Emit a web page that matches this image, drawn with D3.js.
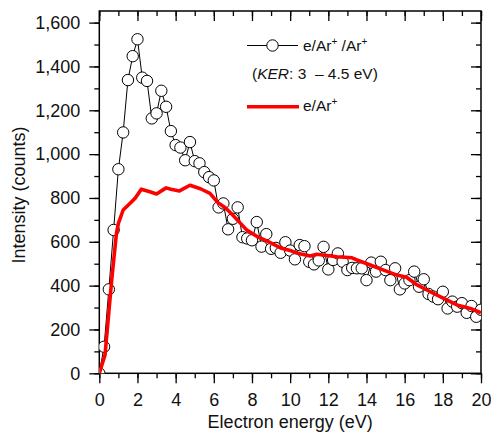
<!DOCTYPE html>
<html>
<head>
<meta charset="utf-8">
<script src="https://cdn.jsdelivr.net/npm/d3@7"></script>
<style>
  body { margin: 0; background: #fff; }
  svg { display: block; font-family: "Liberation Sans", Arial, sans-serif; }
  .tick-label { font-size: 18px; fill: #111; }
  .axis-title { font-size: 18px; fill: #111; }
  .legend-text { font-size: 15.5px; fill: #111; }
</style>
</head>
<body>
<svg id="chart"></svg>
<script>
// e/Ar+/Ar+ (KER 3 - 4.5 eV), circles
const ionEnergy = [0, 0.25, 0.5, 0.75, 1, 1.25, 1.5, 1.75, 2, 2.25, 2.5, 2.75, 3, 3.25, 3.5, 3.75, 4, 4.25, 4.5, 4.75,
  5, 5.25, 5.5, 5.75, 6, 6.25, 6.5, 6.75, 7, 7.25, 7.5, 7.75, 8, 8.25, 8.5, 8.75, 9, 9.25, 9.5, 9.75,
  10, 10.25, 10.5, 10.75, 11, 11.25, 11.5, 11.75, 12, 12.25, 12.5, 12.75, 13, 13.25, 13.5, 13.75, 14, 14.25, 14.5, 14.75,
  15, 15.25, 15.5, 15.75, 16, 16.25, 16.5, 16.75, 17, 17.25, 17.5, 17.75, 18, 18.25, 18.5, 18.75, 19, 19.25, 19.5, 19.75, 20];
const ionCounts = [0, 121, 383, 654, 931, 1099, 1338, 1447, 1524, 1349, 1334, 1163, 1186, 1289, 1216, 1105, 1041, 1030, 972, 1055,
  968, 958, 918, 895, 880, 757, 775, 657, 705, 757, 621, 615, 607, 690, 578, 635, 568, 572, 550, 598,
  560, 520, 585, 580, 509, 497, 515, 577, 474, 517, 547, 509, 471, 481, 479, 479, 425, 505, 464, 509,
  471, 425, 479, 383, 410, 425, 464, 395, 429, 362, 350, 338, 372, 296, 327, 304, 320, 276, 307, 258, 290];

// e/Ar+, red line
const eEnergy = [0, 0.3, 0.65, 0.9, 1.0, 1.25, 1.6, 1.87, 2.2, 2.65, 3.0, 3.5, 3.75, 4.2, 4.75, 5.3, 5.8, 6.2, 6.6, 6.9,
  7.4, 7.75, 8.25, 8.8, 9.5, 10, 10.5, 11.05, 11.4, 12.45, 13.24, 13.5, 14.2, 14.9, 15.6, 16.1, 16.65, 17.34, 18.04, 18.74, 19.44, 20];
const eCounts = [0, 84, 426, 640, 684, 745, 775, 798, 840, 828, 818, 846, 840, 832, 858, 842, 821, 780, 755, 730,
  684, 652, 625, 603, 572, 560, 545, 535, 543, 532, 527, 517, 494, 471, 448, 438, 403, 372, 342, 312, 296, 276];

const xTicks = [0, 2, 4, 6, 8, 10, 12, 14, 16, 18, 20];
const yTicks = [0, 200, 400, 600, 800, 1000, 1200, 1400, 1600];

const W = 491, H = 432;
const margin = { top: 11, right: 10, bottom: 58.7, left: 99.3 };
const width = W - margin.left - margin.right;
const height = H - margin.top - margin.bottom;

const svg = d3.select('#chart').attr('width', W).attr('height', H);
const chart = svg.append('g').attr('transform', `translate(${margin.left},${margin.top})`);

const x = d3.scaleLinear().domain([0, 20]).range([0, width]);
const y = d3.scaleLinear().domain([0, 1653]).range([height, 0]);

const xMinor = d3.range(0, 21, 1);
const yMinor = d3.range(0, 1700, 100).filter(v => v <= 1653);

// bottom axis: ticks outside
chart.append('g').attr('transform', `translate(0,${height})`)
  .call(d3.axisBottom(x).tickValues(xMinor).tickSize(5).tickFormat(''))
  .call(g => g.select('.domain').remove());
chart.append('g').attr('transform', `translate(0,${height})`)
  .call(d3.axisBottom(x).tickValues(xTicks).tickSize(10).tickPadding(10).tickFormat(d3.format('d')))
  .call(g => g.select('.domain').remove())
  .call(g => g.selectAll('text').attr('class', 'tick-label').attr('fill', null));

// top axis: ticks inside
chart.append('g')
  .call(d3.axisBottom(x).tickValues(xMinor).tickSize(5).tickFormat(''))
  .call(g => g.select('.domain').remove());
chart.append('g')
  .call(d3.axisBottom(x).tickValues(xTicks).tickSize(10).tickFormat(''))
  .call(g => g.select('.domain').remove());

// left axis: ticks outside
chart.append('g')
  .call(d3.axisLeft(y).tickValues(yMinor).tickSize(5).tickFormat(''))
  .call(g => g.select('.domain').remove());
chart.append('g')
  .call(d3.axisLeft(y).tickValues(yTicks).tickSize(10).tickPadding(9).tickFormat(d3.format(',')))
  .call(g => g.select('.domain').remove())
  .call(g => g.selectAll('text').attr('class', 'tick-label').attr('fill', null));

// right axis: ticks inside
chart.append('g').attr('transform', `translate(${width},0)`)
  .call(d3.axisLeft(y).tickValues(yMinor).tickSize(5).tickFormat(''))
  .call(g => g.select('.domain').remove());
chart.append('g').attr('transform', `translate(${width},0)`)
  .call(d3.axisLeft(y).tickValues(yTicks).tickSize(10).tickFormat(''))
  .call(g => g.select('.domain').remove());

chart.selectAll('.tick line').attr('stroke', '#000').attr('stroke-width', 1.3);

// frame
chart.append('rect')
  .attr('width', width).attr('height', height)
  .attr('fill', 'none').attr('stroke', '#000').attr('stroke-width', 1.5);

// axis titles
svg.append('text').attr('class', 'axis-title')
  .attr('transform', 'translate(25,195) rotate(-90)')
  .attr('text-anchor', 'middle')
  .text('Intensity (counts)');
svg.append('text').attr('class', 'axis-title')
  .attr('x', margin.left + x(10)).attr('y', 427.5)
  .attr('text-anchor', 'middle')
  .text('Electron energy (eV)');

// data
chart.append('clipPath').attr('id', 'plot-clip')
  .append('rect').attr('width', width).attr('height', height);
const plot = chart.append('g').attr('clip-path', 'url(#plot-clip)');

const ionData = ionEnergy.map((e, i) => ({ e, v: ionCounts[i] }));
const eData = eEnergy.map((e, i) => ({ e, v: eCounts[i] }));
const line = d3.line().x(d => x(d.e)).y(d => y(d.v));

plot.append('path').datum(ionData)
  .attr('d', line).attr('fill', 'none').attr('stroke', '#000').attr('stroke-width', 1);
plot.selectAll('.pt').data(ionData).enter().append('circle')
  .attr('class', 'pt')
  .attr('cx', d => x(d.e)).attr('cy', d => y(d.v)).attr('r', 5.7)
  .attr('fill', '#fff').attr('stroke', '#000').attr('stroke-width', 1);

plot.append('path').datum(eData)
  .attr('d', line).attr('fill', 'none').attr('stroke', '#ff0000')
  .attr('stroke-width', 3.6).attr('stroke-linejoin', 'round');

// legend
const lg = svg.append('g');
lg.append('line').attr('x1', 247).attr('x2', 298).attr('y1', 45.5).attr('y2', 45.5)
  .attr('stroke', '#000').attr('stroke-width', 1);
lg.append('circle').attr('cx', 272.5).attr('cy', 45.5).attr('r', 5.7)
  .attr('fill', '#fff').attr('stroke', '#000');
const t1 = lg.append('text').attr('class', 'legend-text').attr('x', 303).attr('y', 50.5);
t1.append('tspan').text('e/Ar');
t1.append('tspan').attr('font-size', '10px').attr('dy', -6).text('+');
t1.append('tspan').attr('dy', 6).text(' /Ar');
t1.append('tspan').attr('font-size', '10px').attr('dy', -6).text('+');
const t2 = lg.append('text').attr('class', 'legend-text').attr('x', 252).attr('y', 78.5);
t2.append('tspan').text('(');
t2.append('tspan').attr('font-style', 'italic').text('KER');
t2.append('tspan').text(': 3 \u00a0\u2013 4.5 eV)');
lg.append('line').attr('x1', 247).attr('x2', 299).attr('y1', 106.7).attr('y2', 106.7)
  .attr('stroke', '#ff0000').attr('stroke-width', 3.6);
const t3 = lg.append('text').attr('class', 'legend-text').attr('x', 303).attr('y', 111);
t3.append('tspan').text('e/Ar');
t3.append('tspan').attr('font-size', '10px').attr('dy', -6).text('+');
</script>
</body>
</html>
